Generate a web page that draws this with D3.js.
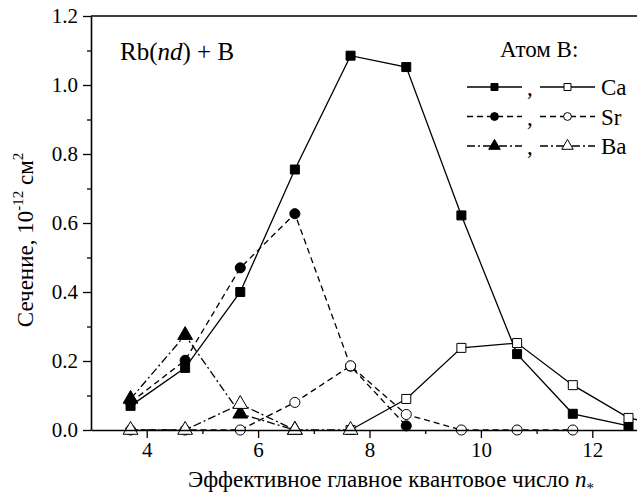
<!DOCTYPE html>
<html>
<head>
<meta charset="utf-8">
<script src="https://cdn.jsdelivr.net/npm/d3@7"></script>
</head>
<body style="margin:0; background:#fff">
<svg id="chart" width="637" height="497" style="display:block"></svg>
<script>
// Effective principal quantum number n* of Rb(nd) levels
const nStar = [3.71, 4.69, 5.68, 6.66, 7.66, 8.66, 9.65, 10.65, 11.65, 12.65, 13.65];

// Cross sections, 10^-12 cm^2 (filled = first set, open = second set)
const caFilled = [0.07, 0.18, 0.40, 0.755, 1.085, 1.052, 0.622, 0.22, 0.047, 0.012];
const caOpen   = [null, null, null, null, 0, 0.09, 0.238, 0.252, 0.13, 0.035, 0.0];
const srFilled = [0.08, 0.202, 0.47, 0.627, 0.185, 0.012];
const srOpen   = [0, 0, 0, 0.08, 0.186, 0.045, 0, 0, 0];
const baFilled = [0.09, 0.275, 0.047, 0];
const baOpen   = [0, 0, 0.075, 0, 0];

const xTicks = [4, 6, 8, 10, 12];
const xMinor = [5, 7, 9, 11, 13];
const yTicks = [0, 0.2, 0.4, 0.6, 0.8, 1.0, 1.2];
const yMinor = [0.1, 0.3, 0.5, 0.7, 0.9, 1.1];

const svg = d3.select("#chart");
const mLeft = 91, mTop = 16, mBottom = 430, mRight = 648;
const FONT = "'Liberation Serif', 'Times New Roman', Tinos, serif";

const x = d3.scaleLinear().domain([3, 13]).range([mLeft, mRight]);
const y = d3.scaleLinear().domain([0, 1.2]).range([mBottom, mTop]);

// Build point list from parallel arrays, skipping gaps
function pts(vals) {
  return vals.map((v, i) => ({ n: nStar[i], v: v })).filter(d => d.v !== null);
}

function label(xp, yp, size) {
  return svg.append("text")
    .attr("x", xp).attr("y", yp)
    .attr("font-size", size)
    .attr("fill", "#000");
}

// Series, drawn filled first so open markers sit on top
const series = [
  { vals: baFilled, dash: "8,3,2,3", sym: d3.symbolTriangle, size: 95, fill: "#000" },
  { vals: srFilled, dash: "6,4", sym: d3.symbolCircle, size: 80, fill: "#000" },
  { vals: caFilled, dash: null, sym: d3.symbolSquare, size: 81, fill: "#000" },
  { vals: caOpen, dash: null, sym: d3.symbolSquare, size: 81, fill: "#fff" },
  { vals: srOpen, dash: "6,4", sym: d3.symbolCircle, size: 80, fill: "#fff" },
  { vals: baOpen, dash: "8,3,2,3", sym: d3.symbolTriangle, size: 95, fill: "#fff" }
];

const line = d3.line().x(d => x(d.n)).y(d => y(d.v));

// Lines
series.forEach(s => {
  svg.append("path")
    .datum(pts(s.vals))
    .attr("d", line)
    .attr("fill", "none")
    .attr("stroke", "#000")
    .attr("stroke-width", 1.3)
    .attr("stroke-dasharray", s.dash);
});

// Markers
series.forEach(s => {
  svg.append("g")
    .selectAll("path")
    .data(pts(s.vals))
    .enter()
    .append("path")
    .attr("d", d3.symbol().type(s.sym).size(s.size))
    .attr("transform", d => "translate(" + x(d.n) + "," + y(d.v) + ")")
    .attr("fill", s.fill)
    .attr("stroke", "#000")
    .attr("stroke-width", 1);
});

// Axes
svg.append("g")
  .attr("transform", "translate(0," + mBottom + ")")
  .call(d3.axisBottom(x).tickValues(xTicks).tickSize(8).tickSizeOuter(0).tickPadding(4));
svg.append("g")
  .attr("transform", "translate(0," + mBottom + ")")
  .call(d3.axisBottom(x).tickValues(xMinor).tickSize(4).tickFormat(""))
  .select(".domain").remove();

svg.append("g")
  .attr("transform", "translate(" + mLeft + ",0)")
  .call(d3.axisLeft(y).tickValues(yTicks).tickFormat(d3.format(".1f")).tickSize(8).tickSizeOuter(0).tickPadding(5));
svg.append("g")
  .attr("transform", "translate(" + mLeft + ",0)")
  .call(d3.axisLeft(y).tickValues(yMinor).tickSize(4).tickFormat(""))
  .select(".domain").remove();

svg.selectAll(".domain").attr("stroke-width", 1.6);
svg.selectAll(".tick line").attr("stroke-width", 1.3);
svg.selectAll(".tick text")
  .attr("font-size", 21)
  .attr("fill", "#000");

// Top frame line
svg.append("line")
  .attr("x1", mLeft).attr("x2", mRight)
  .attr("y1", mTop).attr("y2", mTop)
  .attr("stroke", "#000").attr("stroke-width", 1.6);

// Axis titles
const xt = label(391, 487, 23).attr("text-anchor", "middle");
xt.append("tspan").text("Эффективное главное квантовое число ");
xt.append("tspan").attr("font-style", "italic").text("n");
xt.append("tspan").attr("font-size", 15).attr("dy", 6).text("*");

const yt = label(0, 0, 23)
  .attr("transform", "translate(33,240) rotate(-90)")
  .attr("text-anchor", "middle");
yt.append("tspan").text("Сечение, 10");
yt.append("tspan").attr("font-size", 15).attr("dy", -10).text("-12");
yt.append("tspan").attr("dy", 10).text(" см");
yt.append("tspan").attr("font-size", 15).attr("dy", -10).text("2");

// Inset label
const lab = label(120, 60, 25);
lab.append("tspan").text("Rb(");
lab.append("tspan").attr("font-style", "italic").text("nd");
lab.append("tspan").text(") + B");

// Legend
const legendNames = ["Ca", "Sr", "Ba"];
const legendFilled = [series[2], series[1], series[0]];
const legendOpen = [series[3], series[4], series[5]];

label(500, 57, 23).text("Атом B:");

legendNames.forEach((name, i) => {
  const cy = 87 + i * 29.5;
  [[467, 522, legendFilled[i]], [540, 595, legendOpen[i]]].forEach(([x1, x2, s]) => {
    svg.append("line")
      .attr("x1", x1).attr("x2", x2).attr("y1", cy).attr("y2", cy)
      .attr("stroke", "#000").attr("stroke-width", 1.3)
      .attr("stroke-dasharray", s.dash);
    svg.append("path")
      .attr("d", d3.symbol().type(s.sym).size(s.size * 0.6))
      .attr("transform", "translate(" + ((x1 + x2) / 2) + "," + cy + ")")
      .attr("fill", s.fill).attr("stroke", "#000").attr("stroke-width", 1);
  });
  label(527, cy + 8, 23).text(",");
  label(601, cy + 8, 23).text(name);
});

// Serif face on every text and tspan, forced over any other rule
svg.selectAll("g").attr("font-family", null);
svg.selectAll("text, tspan").style("font-family", () => FONT, "important");
</script>
</body>
</html>
